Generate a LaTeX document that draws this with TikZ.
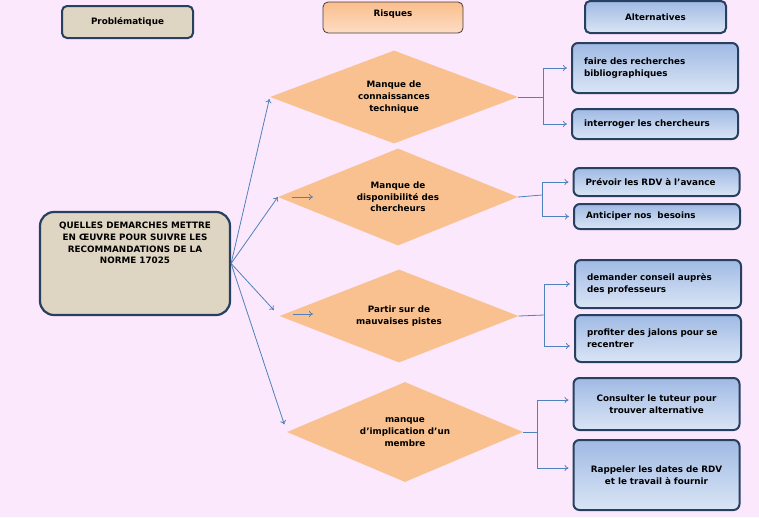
\documentclass[tikz,border=0pt]{standalone}
\usepackage{fontspec}
\setmainfont{DejaVu Sans}
\usetikzlibrary{positioning,arrows.meta,shapes.geometric}
\definecolor{pagepink}{RGB}{252,232,252}
\definecolor{riskorange}{RGB}{249,193,143}
\definecolor{risktop}{RGB}{250,190,140}
\definecolor{riskbot}{RGB}{253,221,196}
\definecolor{riskedge}{RGB}{70,60,60}
\definecolor{linkblue}{RGB}{79,129,189}
\definecolor{edgenavy}{RGB}{39,64,96}
\definecolor{linen}{RGB}{222,213,194}
\definecolor{alttop}{RGB}{160,186,228}
\definecolor{altbot}{RGB}{218,229,245}

\begin{document}
\begin{tikzpicture}[x=1pt, y=-1pt,
  txt/.style={font=\bfseries\fontsize{8.8}{11.6}\selectfont, text=black},
  probhead/.style={txt, draw=edgenavy, line width=2pt, rounded corners=5pt, fill=linen},
  riskhead/.style={txt, draw=riskedge, line width=0.8pt, rounded corners=5pt, top color=risktop, bottom color=riskbot},
  althead/.style={txt, draw=edgenavy, line width=2pt, rounded corners=5pt, top color=alttop, bottom color=altbot},
  mainbox/.style={draw=edgenavy, line width=2.2pt, rounded corners=14pt, fill=linen, minimum width=190, minimum height=103},
  risk/.style={txt, diamond, aspect=2.6, fill=riskorange, inner sep=0pt, align=center},
  alt/.style={txt, draw=edgenavy, line width=2pt, rounded corners=6pt, top color=alttop, bottom color=altbot, inner xsep=12pt, text width=142, align=left},
  altc/.style={alt, align=center},
  link/.style={linkblue, line width=0.8pt},
  arrow/.style={link, -{To[length=4pt,width=6pt]}}
]
  \fill[pagepink] (0,0) rectangle (759,517);
  \useasboundingbox (0,0) rectangle (759,517);

  % en-tetes
  \node[probhead, minimum width=131, minimum height=32] (hprob) at (127.5,22) {Problématique};
  \node[riskhead, minimum width=140, minimum height=31, text depth=8pt] (hrisk) at (393,17.5) {Risques};
  \node[althead, minimum width=141, minimum height=32] (halt) at (655.5,17) {Alternatives};

  % problematique
  \node[mainbox] (prob) at (135,263.5) {};
  \node[txt, align=center, below=8pt of prob.north] (probtxt) {QUELLES DEMARCHES METTRE\\EN ŒUVRE POUR SUIVRE LES\\RECOMMANDATIONS DE LA\\NORME 17025};

  % risques
  \node[risk, minimum width=248, minimum height=93] (r1) at (394,97) {Manque de\\connaissances\\technique};
  \node[risk, minimum width=240, minimum height=97] (r2) at (398,197) {Manque de\\disponibilité des\\chercheurs};
  \node[risk, minimum width=239, minimum height=93] (r3) at (399,316) {Partir sur de\\mauvaises pistes};
  \node[risk, minimum width=236, minimum height=100] (r4) at (405,432) {manque\\d’implication d’un\\membre};

  % alternatives
  \node[alt, minimum height=50] (a1) at (655,68) {faire des recherches\\bibliographiques};
  \node[alt, minimum height=30] (a2) at (655,124) {interroger les chercheurs};
  \node[alt, minimum height=28] (b1) at (656.5,182) {Prévoir les RDV à l’avance};
  \node[alt, minimum height=25] (b2) at (657,216.5) {Anticiper nos\ \ besoins};
  \node[alt, minimum height=48] (c1) at (658,284) {demander conseil auprès\\des professeurs};
  \node[alt, minimum height=47] (c2) at (658,338.5) {profiter des jalons pour se\\recentrer};
  \node[altc, minimum height=52] (d1) at (656.5,404) {Consulter le tuteur pour\\trouver alternative};
  \node[altc, minimum height=70] (d2) at (656.5,475) {Rappeler les dates de RDV\\et le travail à fournir};

  % liens problematique -> risques
  \draw[arrow, shorten >=2pt] (prob.east) -- (r1.west);
  \draw[arrow] (prob.east) -- (r2.west);
  \draw[arrow, shorten >=8pt] (prob.east) -- (r3.west);
  \draw[arrow, shorten >=8pt] (prob.east) -- (r4.west);
  \coordinate (s2) at (292,197);
  \coordinate (s3) at (293,314);
  \draw[arrow] (s2) -- ++(21,0);
  \draw[arrow] (s3) -- ++(20,0);

  % liens risques -> alternatives
  \coordinate (j1) at (543,97);
  \coordinate (j2) at (542,195);
  \coordinate (j3) at (544,315);
  \coordinate (j4) at (537,432);
  \draw[link] (r1.east) -- (j1);
  \draw[link] (r2.east) -- (j2);
  \draw[link] (r3.east) -- (j3);
  \draw[link] (r4.east) -- (j4);
  \draw[arrow, shorten >=4pt] (j1) |- (a1.west);
  \draw[arrow, shorten >=4pt] (j1) |- (a2.west);
  \draw[arrow, shorten >=4pt] (j2) |- (b1.west);
  \draw[arrow, shorten >=4pt] (j2) |- (b2.west);
  \draw[arrow, shorten >=4pt] (j3) |- (c1.west);
  \draw[arrow, shorten >=4pt] (j3) |- ([yshift=-7.5pt]c2.west);
  \draw[arrow, shorten >=4pt] (j4) |- ([yshift=4pt]d1.west);
  \draw[arrow, shorten >=4pt] (j4) |- ([yshift=7pt]d2.west);
\end{tikzpicture}
\end{document}
